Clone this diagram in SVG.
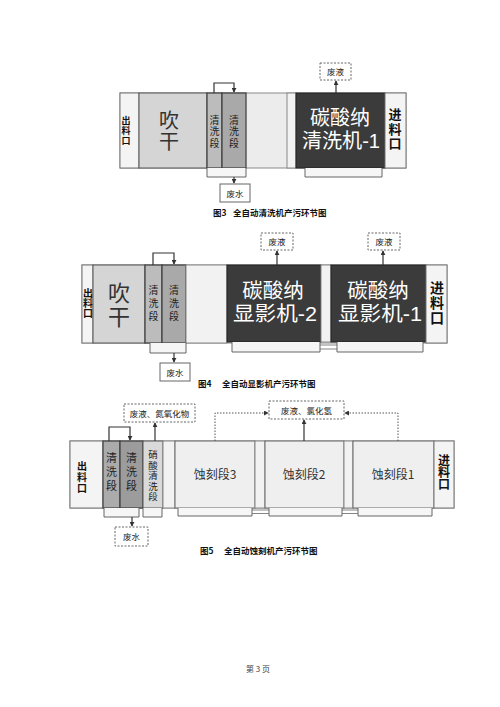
<svg xmlns="http://www.w3.org/2000/svg" width="500" height="707" viewBox="0 0 500 707">
<defs>
<marker id="ah" viewBox="0 0 6 6" refX="5" refY="3" markerWidth="5" markerHeight="5" orient="auto" markerUnits="userSpaceOnUse">
<path d="M0,0 L6,3 L0,6 z" fill="#333"/>
</marker>
<style>
text{font-family:"Noto Sans CJK SC","Noto Sans",sans-serif;}
.strip{fill:#ececec;stroke:#8a8a8a;stroke-width:1;}
.out{fill:#f4f4f4;stroke:#777;stroke-width:1;}
.dry{fill:#d5d5d5;stroke:#555;stroke-width:1;}
.w1{fill:#bcbcbc;stroke:#444;stroke-width:1.3;}
.w2{fill:#a9a9a9;stroke:#444;stroke-width:1.3;}
.nit{fill:#dadada;stroke:#555;stroke-width:1;}
.gap{fill:#f2f2f2;stroke:#888;stroke-width:1;}
.dark{fill:#3b3b3b;stroke:#222;stroke-width:1;}
.etch{fill:#efefef;stroke:#666;stroke-width:1;}
.brk{fill:#f6f6f6;stroke:#666;stroke-width:1;}
.box{fill:#fff;stroke:#666;stroke-width:1;}
.dbox{fill:#fff;stroke:#666;stroke-width:1;stroke-dasharray:2,1.5;}
.ln{fill:none;stroke:#333;stroke-width:1.2;}
.dl{fill:none;stroke:#555;stroke-width:1;stroke-dasharray:1.5,1.5;}
.v{writing-mode:vertical-rl;text-anchor:middle;}
.vt{fill:#222;}
.vb{font-weight:700;fill:#111;}
.big{fill:#fff;text-anchor:middle;font-family:"Liberation Sans","Noto Sans CJK SC",sans-serif;}
.dt{fill:#333;text-anchor:middle;}
.lbl{font-size:8.5px;fill:#222;text-anchor:middle;}
.cap{font-size:8.5px;font-weight:700;fill:#111;}
</style>
</defs>
<rect width="500" height="707" fill="#fff"/>

<!-- Figure 3 -->
<g id="fig3">
<rect class="strip" x="120" y="93" width="286" height="75"/>
<g id="f3-out"><rect class="out" x="120" y="93" width="19" height="75"/>
<text class="v vb" font-size="9" letter-spacing="1" x="126" y="131.5">出料口</text></g>
<g id="f3-dry"><rect class="dry" x="139" y="93" width="68" height="75"/>
<text class="v dt" font-size="20" letter-spacing="1" x="169" y="131">吹干</text></g>
<g id="f3-w1"><rect class="w1" x="207" y="93" width="15" height="75"/>
<text class="v vt" font-size="10" letter-spacing="1.5" x="214.5" y="132">清洗段</text></g>
<g id="f3-w2"><rect class="w2" x="222" y="93" width="24" height="75"/>
<text class="v vt" font-size="10" letter-spacing="1.5" x="234" y="132">清洗段</text></g>
<rect class="gap" x="287" y="93" width="9" height="75"/>
<g id="f3-clean"><rect class="dark" x="296" y="93" width="89" height="75"/>
<text class="big" font-size="20"><tspan x="340" y="124.5">碳酸纳</tspan><tspan x="341" y="147.5" textLength="78" lengthAdjust="spacingAndGlyphs">清洗机-1</tspan></text></g>
<g id="f3-in"><rect class="out" x="385" y="93" width="21" height="75"/>
<text class="v vb" font-size="13" letter-spacing="1.5" x="395" y="129.5">进料口</text></g>
<path class="brk" d="M207,168 V177 H246 V168"/>
<path class="brk" d="M305,168 V177 H382 V168"/>
<g id="f3-ww"><rect class="box" x="220" y="184" width="30" height="18"/><text class="lbl" font-size="9" x="235" y="196.5">废水</text></g>
<g id="f3-wl"><rect class="dbox" x="320" y="63" width="31" height="17"/><text class="lbl" font-size="8" x="335.5" y="74.5">废液</text></g>
<text class="cap" x="213" y="216">图3</text><text class="cap" x="233" y="216">全自动清洗机产污环节图</text>
</g>
<g id="f3-connectors">
<path class="ln" d="M214,93 V83 H234 V92" marker-end="url(#ah)"/>
<path class="ln" d="M234,177 V183" marker-end="url(#ah)"/>
<path class="ln" d="M336,93 V81" marker-end="url(#ah)" stroke-width="0.8"/>
</g>

<!-- Figure 4 -->
<g id="fig4">
<rect class="strip" x="82" y="265" width="365" height="78"/>
<g id="f4-out"><rect class="out" x="82" y="265" width="11" height="78"/>
<text class="v vb" font-size="10" x="88" y="303">出料口</text></g>
<g id="f4-dry"><rect class="dry" x="93" y="265" width="52" height="78"/>
<text class="v dt" font-size="22" letter-spacing="2" x="119" y="306">吹干</text></g>
<g id="f4-w1"><rect class="w1" x="145" y="265" width="17" height="78"/>
<text class="v vt" font-size="10" letter-spacing="3" x="153.5" y="305">清洗段</text></g>
<g id="f4-w2"><rect class="w2" x="162" y="265" width="24" height="78"/>
<text class="v vt" font-size="10" letter-spacing="3" x="174" y="305">清洗段</text></g>
<rect class="gap" x="186" y="265" width="41" height="78"/>
<g id="f4-dev2"><rect class="dark" x="227" y="265" width="94" height="77"/>
<text class="big" font-size="20.5"><tspan x="273" y="298">碳酸纳</tspan><tspan x="275" y="321" textLength="84" lengthAdjust="spacingAndGlyphs">显影机-2</tspan></text></g>
<rect class="gap" x="321" y="265" width="10" height="77"/>
<g id="f4-dev1"><rect class="dark" x="331" y="265" width="95" height="77"/>
<text class="big" font-size="20.5"><tspan x="378" y="298">碳酸纳</tspan><tspan x="380" y="321" textLength="84" lengthAdjust="spacingAndGlyphs">显影机-1</tspan></text></g>
<g id="f4-in"><rect class="out" x="426" y="265" width="21" height="78"/>
<text class="v vb" font-size="14" letter-spacing="1" x="437" y="303">进料口</text></g>
<path class="brk" d="M150,343 V353 H186 V343"/>
<path class="brk" d="M232,342 V352 H320 V342"/>
<path class="brk" d="M337,342 V352 H423 V342"/>
<path fill="none" stroke="#666" stroke-width="0.8" d="M320,345 H337 M320,349 H337"/>
<g id="f4-ww"><rect class="box" x="160" y="363" width="30" height="18"/><text class="lbl" font-size="9" x="175" y="375.5">废水</text></g>
<g id="f4-wl2"><rect class="dbox" x="261" y="233" width="32" height="17"/><text class="lbl" font-size="8" x="277" y="244.5">废液</text></g>
<g id="f4-wl1"><rect class="dbox" x="368" y="233" width="32" height="17"/><text class="lbl" font-size="8" x="384" y="244.5">废液</text></g>
<text class="cap" x="198" y="387">图4</text><text class="cap" x="222" y="387" font-size="9.5">全自动显影机产污环节图</text>
</g>
<g id="f4-connectors">
<path class="ln" d="M153,265 V253 H174 V264" marker-end="url(#ah)"/>
<path class="ln" d="M174,353 V362" marker-end="url(#ah)"/>
<path class="ln" d="M277,265 V251" marker-end="url(#ah)" stroke-width="0.8"/>
<path class="ln" d="M383,265 V251" marker-end="url(#ah)" stroke-width="0.8"/>
</g>

<!-- Figure 5 -->
<g id="fig5">
<rect class="strip" x="70" y="441" width="384" height="67" style="fill:#efefef"/>
<g id="f5-out"><rect class="out" x="70" y="441" width="33" height="67"/>
<text class="v vb" font-size="10" letter-spacing="1" x="82" y="477.5">出料口</text></g>
<g id="f5-w1"><rect class="w1" x="103" y="441" width="17" height="67" style="fill:#ababab"/>
<text class="v vt" font-size="11" letter-spacing="3" x="111.5" y="473">清洗段</text></g>
<g id="f5-w2"><rect class="w2" x="120" y="441" width="23" height="67" style="fill:#9c9c9c"/>
<text class="v vt" font-size="11" letter-spacing="3" x="131.5" y="473">清洗段</text></g>
<g id="f5-nit"><rect class="nit" x="143" y="441" width="20" height="67"/>
<text class="v vt" font-size="9.5" letter-spacing="1" x="153" y="476">硝酸清洗段</text></g>
<rect class="gap" x="163" y="441" width="12" height="67"/>
<g id="f5-e3"><rect class="etch" x="175" y="441" width="80" height="67"/><text class="dt" font-size="12" x="215" y="479">蚀刻段3</text></g>
<rect class="gap" x="255" y="441" width="10" height="67"/>
<g id="f5-e2"><rect class="etch" x="265" y="441" width="79" height="67"/><text class="dt" font-size="12" x="304" y="479">蚀刻段2</text></g>
<rect class="gap" x="344" y="441" width="9" height="67"/>
<g id="f5-e1"><rect class="etch" x="353" y="441" width="81" height="67"/><text class="dt" font-size="12" x="393" y="479">蚀刻段1</text></g>
<g id="f5-in"><rect class="out" x="434" y="441" width="20" height="67"/>
<text class="v vb" font-size="12" x="444" y="472">进料口</text></g>
<path class="brk" d="M104,508 V517 H139 V508"/>
<path class="brk" d="M143,508 V517 H162 V508"/>
<path class="brk" d="M178,508 V516 H252 V508"/>
<path class="brk" d="M269,508 V516 H342 V508"/>
<path class="brk" d="M358,508 V516 H432 V508"/>
<path fill="none" stroke="#666" stroke-width="0.8" d="M252,510 H269 M252,513.5 H269 M342,510 H358 M342,513.5 H358"/>
<g id="f5-ww"><rect class="dbox" x="115" y="527" width="33" height="19"/><text class="lbl" font-size="9" x="131.5" y="540">废水</text></g>
<g id="f5-wn"><rect class="dbox" x="124" y="404" width="71" height="18"/><text class="lbl" x="159.5" y="416.5">废液、氮氧化物</text></g>
<g id="f5-wc"><rect class="dbox" x="269" y="401" width="75" height="18"/><text class="lbl" x="306.5" y="413.5">废液、氯化氢</text></g>
<text class="cap" x="200" y="554">图5</text><text class="cap" x="224" y="554">全自动蚀刻机产污环节图</text>
</g>
<g id="f5-connectors">
<path class="ln" d="M109,441 V427 H130 V440" marker-end="url(#ah)" stroke-width="1.5"/>
<path class="ln" d="M132,517 V526" marker-end="url(#ah)"/>
<path class="ln" d="M155,441 V423" marker-end="url(#ah)" stroke-width="0.8"/>
<path class="dl" d="M215,441 V413 H268" marker-end="url(#ah)"/>
<path class="dl" d="M398,441 V413 H345" marker-end="url(#ah)"/>
<path class="ln" d="M304,441 V420" marker-end="url(#ah)" stroke-width="0.8"/>
</g>

<text x="246" y="672" font-size="8" fill="#444">第 3 页</text>
</svg>
